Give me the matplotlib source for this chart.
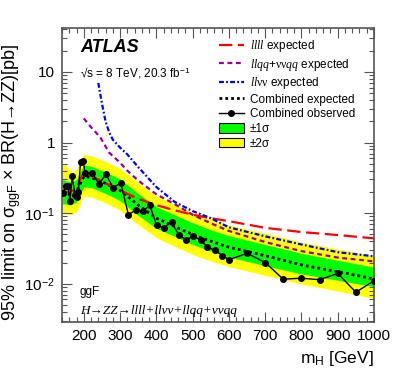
import math
import matplotlib
matplotlib.use("Agg")
import matplotlib.pyplot as plt
import matplotlib.ticker as mticker
from matplotlib.lines import Line2D
from matplotlib.patches import Patch

plt.rcParams['font.family'] = ['Liberation Sans', 'DejaVu Sans']
plt.rcParams['mathtext.fontset'] = 'custom'
plt.rcParams['mathtext.rm'] = 'Liberation Serif'
plt.rcParams['mathtext.it'] = 'Liberation Serif:italic'
plt.rcParams['mathtext.bf'] = 'Liberation Serif:bold'

# ---------------- data ----------------
exp_mass = [140, 150, 160, 170, 180, 190, 200, 220, 240, 260, 280, 300, 350, 400,
            450, 500, 550, 600, 700, 800, 900, 1000]
exp_comb = [0.19, 0.19, 0.185, 0.19, 0.20, 0.26, 0.33, 0.32, 0.29, 0.265, 0.235, 0.21,
            0.13, 0.085, 0.065, 0.050, 0.040, 0.033, 0.025, 0.0185, 0.0148, 0.0117]
exp_p2 = [0.48, 0.48, 0.42, 0.38, 0.42, 0.55, 0.68, 0.65, 0.59, 0.54, 0.48, 0.43,
          0.27, 0.175, 0.133, 0.103, 0.083, 0.068, 0.052, 0.039, 0.031, 0.025]
exp_p1 = [0.30, 0.29, 0.28, 0.28, 0.30, 0.38, 0.48, 0.465, 0.42, 0.385, 0.34, 0.305,
          0.19, 0.124, 0.095, 0.073, 0.058, 0.048, 0.036, 0.027, 0.0215, 0.0172]
exp_m1 = [0.135, 0.135, 0.13, 0.135, 0.145, 0.185, 0.235, 0.23, 0.21, 0.19, 0.17, 0.15,
          0.093, 0.061, 0.047, 0.036, 0.029, 0.024, 0.018, 0.0138, 0.0112, 0.0091]
exp_m2 = [0.098, 0.098, 0.096, 0.098, 0.105, 0.135, 0.175, 0.17, 0.155, 0.14, 0.125, 0.11,
          0.069, 0.045, 0.034, 0.026, 0.021, 0.0175, 0.0132, 0.0099, 0.0079, 0.0062]

llll_mass = [140, 150, 160, 170, 180, 190, 200, 220, 250, 300, 350, 400, 450, 500,
             550, 600, 700, 800, 900, 1000]
llll_exp = [0.20, 0.20, 0.20, 0.21, 0.22, 0.30, 0.37, 0.34, 0.28, 0.21, 0.16, 0.13,
            0.11, 0.095, 0.085, 0.077, 0.062, 0.054, 0.049, 0.044]

llqq_mass = [200, 220, 245, 270, 300, 320, 350, 400, 450, 500, 550, 600, 700, 800, 900, 1000]
llqq_exp = [2.2, 1.65, 1.2, 0.72, 0.52, 0.40, 0.29, 0.185, 0.135, 0.095, 0.072, 0.056,
            0.039, 0.029, 0.0235, 0.0207]

llvv_mass = [240, 250, 260, 270, 280, 300, 320, 350, 400, 450, 500, 550, 600, 700, 800, 900, 1000]
llvv_exp = [7.0, 3.6, 2.0, 1.4, 1.1, 0.85, 0.68, 0.45, 0.235, 0.145, 0.107, 0.085, 0.063,
            0.047, 0.036, 0.028, 0.0245]

obs_mass = [142, 151, 157, 162, 168, 176, 180, 185, 191, 199, 203, 222, 242, 261, 281, 302,
            323, 344, 362, 382, 401, 421, 442, 462, 482, 502, 522, 541, 561, 582, 601,
            650, 700, 750, 800, 850, 900, 950, 1000]
obs_val = [0.195, 0.24, 0.24, 0.147, 0.335, 0.178, 0.172, 0.20, 0.53, 0.55, 0.375, 0.375,
           0.26, 0.354, 0.23, 0.267, 0.095, 0.112, 0.106, 0.129, 0.067, 0.062, 0.075,
           0.049, 0.042, 0.047, 0.042, 0.033, 0.030, 0.025, 0.022, 0.027, 0.020, 0.0116,
           0.012, 0.0114, 0.014, 0.0076, 0.011]

# ---------------- figure ----------------
fig = plt.figure(figsize=(3.94, 3.82), dpi=100)
ax = fig.add_axes([62/394, 1-321.7/382, (374-62)/394, (321.7-28)/382])

ax.fill_between(exp_mass, exp_m2, exp_p2, color='#ffff00', lw=0, zorder=1)
ax.fill_between(exp_mass, exp_m1, exp_p1, color='#00ff00', lw=0, zorder=2)
ax.plot(exp_mass, exp_comb, color='black', lw=2.0, dashes=(1, 1.1), zorder=3)
ax.plot(llll_mass, llll_exp, color='#ff0000', lw=1.6, dashes=(6, 2.5), zorder=4)
ax.plot(llqq_mass, llqq_exp, color='#990099', lw=1.6, dashes=(2.2, 1.6), zorder=4)
ax.plot(llvv_mass, llvv_exp, color='#0000ff', lw=1.6, dashes=(2.2, 1, 0.8, 1), zorder=4)
ax.plot(obs_mass, obs_val, color='black', lw=1.0, marker='o', ms=4, zorder=5)

ax.set_yscale('log')
ax.set_xlim(140, 1000)
ax.set_ylim(0.0029, 42)

ax.xaxis.set_major_locator(mticker.MultipleLocator(100))
ax.xaxis.set_minor_locator(mticker.MultipleLocator(20))
ax.yaxis.set_major_locator(mticker.LogLocator(base=10, numticks=10))
ax.yaxis.set_minor_locator(mticker.LogLocator(base=10, subs=range(2, 10), numticks=20))
ax.yaxis.set_minor_formatter(mticker.NullFormatter())


def yfmt(v, pos):
    if abs(v - 1) < 1e-9:
        return '1'
    if abs(v - 10) < 1e-9:
        return '10'
    e = int(round(math.log10(v)))
    return r'10$^{\mathregular{%d}}$' % e


ax.yaxis.set_major_formatter(mticker.FuncFormatter(yfmt))

frame_col = '#555555'
for s in ax.spines.values():
    s.set_color(frame_col)
    s.set_linewidth(1.2)
ax.tick_params(which='both', direction='in', top=True, right=True, color=frame_col,
               labelsize=11, width=0.8)
ax.tick_params(which='major', length=7, pad=5)
ax.tick_params(which='minor', length=3.5)

fig.text(12/394, 1-182/382, r'95% limit on σ$_{\mathregular{ggF}}$ × BR(H→ZZ)[pb]',
         rotation=90, ha='center', va='center', fontsize=13)
fig.text(374/394, 1-358/382, r'm$_{\mathregular{H}}$ [GeV]', ha='right', va='center',
         fontsize=12.5)

fig.text(80/394, 1-48/382, 'ATLAS', fontsize=13, fontweight='bold', style='italic',
         ha='left', va='center')
fig.text(80/394, 1-73/382, r'√s = 8 TeV, 20.3 fb$^{\mathregular{-1}}$', fontsize=8.5,
         ha='left', va='center')
fig.text(80/394, 1-292/382, 'ggF', fontsize=8.5, ha='left', va='center')
fig.text(80/394, 1-311/382, 'H→ZZ→llll+llνν+llqq+ννqq', family='Liberation Serif',
         style='italic', fontsize=9.5, ha='left', va='center')

handles = [
    Line2D([], [], color='#ff0000', lw=1.6, dashes=(6, 2.5)),
    Line2D([], [], color='#990099', lw=1.6, dashes=(2.2, 1.6)),
    Line2D([], [], color='#0000ff', lw=1.6, dashes=(2.2, 1, 0.8, 1)),
    Line2D([], [], color='black', lw=2.0, dashes=(1, 1.1)),
    Line2D([], [], color='black', lw=1.0, marker='o', ms=4),
    Patch(facecolor='#00ff00', edgecolor='black', lw=0.8),
    Patch(facecolor='#ffff00', edgecolor='black', lw=0.8),
]
labels = [
    r'$llll$ expected',
    r'$llqq$+$\mathrm{\nu\nu}qq$ expected',
    r'$ll\mathrm{\nu\nu}$ expected',
    'Combined expected',
    'Combined observed',
    '±1σ',
    '±2σ',
]
leg = fig.legend(handles, labels, loc='upper left', bbox_to_anchor=(219/394, 1-38/382),
                 frameon=False, fontsize=8.5, handlelength=2.1, handleheight=0.9,
                 handletextpad=0.5, labelspacing=0.22, borderpad=0, borderaxespad=0)

fig.savefig('out.png', dpi=100)
